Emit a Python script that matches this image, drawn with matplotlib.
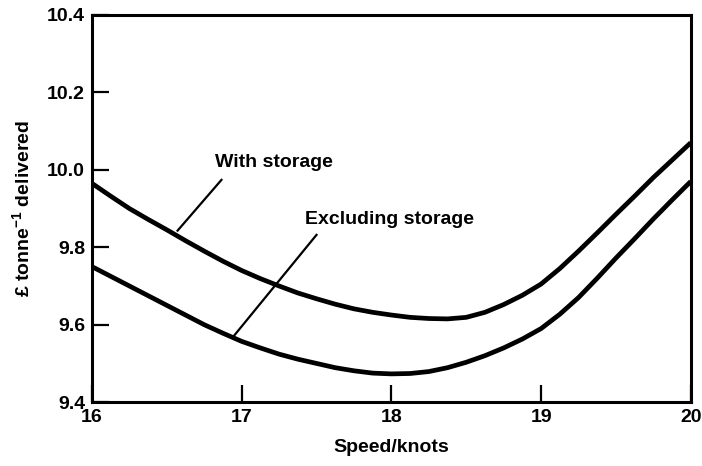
import matplotlib
matplotlib.use('Agg')
import matplotlib.pyplot as plt

# Helvetica-like bold text, as in the scan
plt.rcParams['font.family'] = ['Liberation Sans', 'DejaVu Sans']
plt.rcParams['font.weight'] = 'bold'
plt.rcParams['mathtext.default'] = 'regular'

# data
speed = [16.0, 16.125, 16.25, 16.375, 16.5, 16.625, 16.75, 16.875, 17.0,
         17.125, 17.25, 17.375, 17.5, 17.625, 17.75, 17.875, 18.0,
         18.125, 18.25, 18.375, 18.5, 18.625, 18.75, 18.875, 19.0,
         19.125, 19.25, 19.375, 19.5, 19.625, 19.75, 19.875, 20.0]
with_storage = [9.965, 9.932, 9.900, 9.872, 9.845, 9.817, 9.790, 9.764, 9.740,
                9.719, 9.700, 9.682, 9.667, 9.653, 9.641, 9.632, 9.625,
                9.619, 9.616, 9.615, 9.619, 9.632, 9.652, 9.676, 9.705,
                9.745, 9.790, 9.837, 9.885, 9.932, 9.980, 10.025, 10.070]
excl_storage = [9.750, 9.725, 9.700, 9.675, 9.650, 9.625, 9.600, 9.578, 9.557,
                9.540, 9.524, 9.511, 9.500, 9.489, 9.481, 9.475, 9.473,
                9.474, 9.479, 9.489, 9.503, 9.520, 9.540, 9.563, 9.590,
                9.627, 9.670, 9.720, 9.772, 9.822, 9.873, 9.922, 9.970]

x_ticks = [16, 17, 18, 19, 20]
y_ticks = [9.4, 9.6, 9.8, 10.0, 10.2, 10.4]
y_tick_labels = ['9.4', '9.6', '9.8', '10.0', '10.2', '10.4']

fig = plt.figure(figsize=(7.02, 4.66), dpi=100)
ax = fig.add_axes([0.131, 0.137, 0.853, 0.831])

ax.plot(speed, with_storage, color='black', lw=3.4, solid_capstyle='butt')
ax.plot(speed, excl_storage, color='black', lw=3.4, solid_capstyle='butt')

# curve labels with leader lines
ax.text(16.82, 10.018, 'With storage', fontsize=14, va='center', ha='left')
ax.plot([16.865, 16.572], [9.974, 9.843], color='black', lw=1.6)
ax.text(17.42, 9.871, 'Excluding storage', fontsize=14, va='center', ha='left')
ax.plot([17.50, 16.95], [9.832, 9.572], color='black', lw=1.6)

ax.set_xlim(16, 20)
ax.set_ylim(9.4, 10.4)
ax.set_xticks(x_ticks)
ax.set_yticks(y_ticks)
ax.set_yticklabels(y_tick_labels)
ax.tick_params(direction='in', length=12, width=1.6, labelsize=14, pad=5)

for s in ax.spines.values():
    s.set_linewidth(2.2)

ax.set_xlabel('Speed/knots', fontsize=14, fontweight='bold', labelpad=9)
ax.set_ylabel('£ tonne$^{-1}$ delivered', fontsize=14, fontweight='bold', labelpad=10)

fig.savefig('out.png', dpi=100)
